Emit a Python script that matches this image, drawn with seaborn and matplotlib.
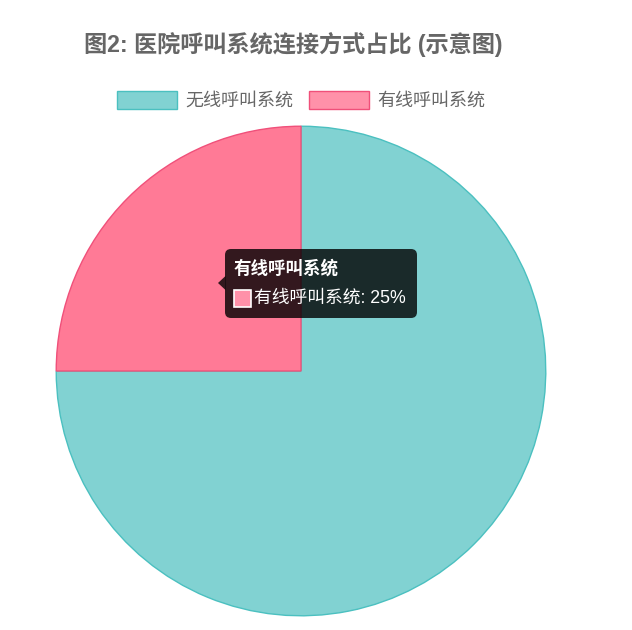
import matplotlib
matplotlib.use("Agg")
import matplotlib.pyplot as plt
import seaborn as sns
from matplotlib.patches import Patch, FancyBboxPatch, Polygon, Rectangle

# ---- data ----
categories = ["无线呼叫系统", "有线呼叫系统"]
values = [75, 25]
title = "图2: 医院呼叫系统连接方式占比 (示意图)"
fill_colors = ["#81D2D2", "#FF7A96"]
legend_colors = ["#81D2D2", "#FF91A9"]
edge_colors = ["#4BC0C0", "#F0507A"]

sns.set_theme(style="white")
plt.rcParams['font.family'] = ['Noto Sans CJK SC', 'DejaVu Sans']
mixed = ['Liberation Sans', 'Noto Sans CJK SC', 'DejaVu Sans']

W, H = 632, 630
fig = plt.figure(figsize=(W / 100, H / 100), dpi=100)
fig.patch.set_facecolor("white")

# pie axes: center (301,371), radius 246 px
cx, cy, r = 301, 371, 246
ax = fig.add_axes([(cx - r) / W, (H - cy - r) / H, 2 * r / W, 2 * r / H])
wedges, _ = ax.pie(values, colors=fill_colors, startangle=90, counterclock=False,
                   radius=1, wedgeprops=dict(linewidth=1.0))
for w, ec in zip(wedges, edge_colors):
    w.set_edgecolor(ec)
ax.set_xlim(-1.005, 1.005)
ax.set_ylim(-1.005, 1.005)
ax.axis("off")

# title
fig.text(293 / W, 1 - 44 / H, title, ha="center", va="center",
         fontsize=16.7, fontweight="bold", color="#666666", family=mixed)

# legend
handles = [Patch(facecolor=c, edgecolor=e, linewidth=1.0) for c, e in zip(legend_colors, edge_colors)]
leg = fig.legend(handles, categories, loc="center", bbox_to_anchor=(301 / W, 1 - 100.5 / H),
                 ncol=2, frameon=False, fontsize=13, handlelength=3.3, handleheight=1.15,
                 handletextpad=0.45, columnspacing=0.9, labelcolor="#666666")

# tooltip overlay
ov = fig.add_axes([0, 0, 1, 1], zorder=10)
ov.set_xlim(0, W)
ov.set_ylim(H, 0)
ov.axis("off")
ov.patch.set_alpha(0)
box = FancyBboxPatch((228, 252), 186, 63, boxstyle="round,pad=3,rounding_size=6",
                     facecolor=(0, 0, 0, 0.8), edgecolor="none")
ov.add_patch(box)
ov.add_patch(Polygon([[218, 283], [225.5, 276], [225.5, 290]], closed=True,
                     facecolor=(0, 0, 0, 0.8), edgecolor="none"))
ov.text(234, 268, categories[1], color="white", fontsize=12.6, fontweight="bold",
        ha="left", va="center", family=mixed)
ov.add_patch(Rectangle((234, 290), 17, 17, facecolor=legend_colors[1], edgecolor="white",
                       linewidth=1.2))
ov.text(254, 298.5, f"{categories[1]}: {values[1]}%", color="white", fontsize=12.8,
        ha="left", va="center", family=mixed)

fig.savefig("out.png", dpi=100, facecolor="white")
